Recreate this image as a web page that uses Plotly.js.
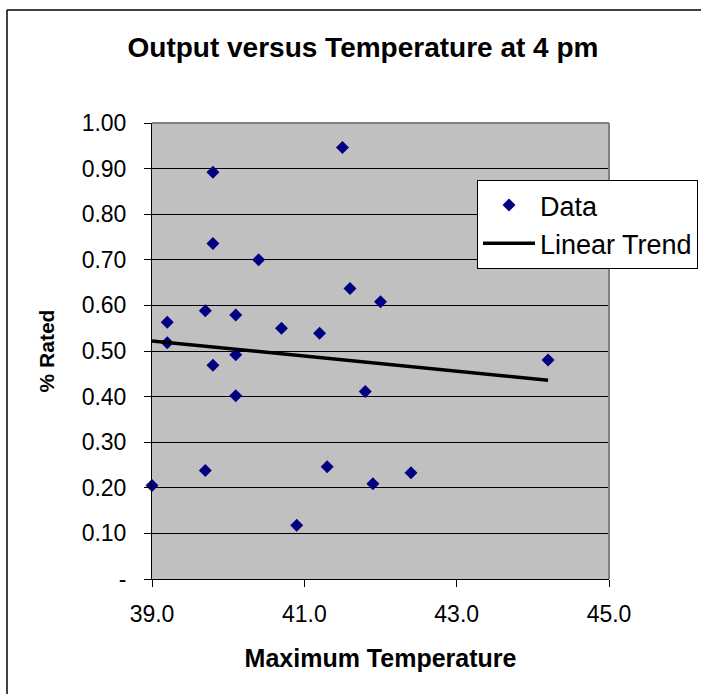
<!DOCTYPE html>
<html>
<head>
<meta charset="utf-8">
<script src="https://cdn.plot.ly/plotly-3.0.1.min.js"></script>
<style>
  html, body { margin: 0; padding: 0; background: #ffffff; overflow: hidden; width: 701px; height: 694px; }
  #chart { width: 701px; height: 694px; overflow: hidden; }
</style>
</head>
<body>
<div id="chart"></div>
<script>
// ---- data ----
const maxTemp = [39.0, 39.2, 39.2, 39.7, 39.7, 39.8, 39.8, 39.8, 40.1, 40.1, 40.1, 40.4, 40.7, 40.9, 41.2, 41.3, 41.5, 41.6, 41.8, 41.9, 42.0, 42.4, 44.2];
const pctRated = [0.205, 0.563, 0.518, 0.588, 0.238, 0.892, 0.736, 0.469, 0.579, 0.492, 0.402, 0.700, 0.550, 0.118, 0.539, 0.246, 0.946, 0.637, 0.411, 0.209, 0.608, 0.233, 0.480];
const trendX = [39.0, 44.2];
const trendY = [0.522, 0.436];
const yTickVals = [0, 0.1, 0.2, 0.3, 0.4, 0.5, 0.6, 0.7, 0.8, 0.9, 1.0];
const yTickText = ["-", "0.10", "0.20", "0.30", "0.40", "0.50", "0.60", "0.70", "0.80", "0.90", "1.00"];
const xTickVals = [39, 41, 43, 45];
const xTickText = ["39.0", "41.0", "43.0", "45.0"];

// ---- layout helpers ----
const W = 701, H = 694;
const M = { l: 152, r: 92, t: 123, b: 115, autoexpand: false };
const PW = W - M.l - M.r, PH = H - M.t - M.b;
const px = x => (x - M.l) / PW;
const py = y => (H - M.b - y) / PH;
const FONT = "Liberation Sans, Arial, Helvetica, sans-serif";

const traces = [
  {
    type: "scatter", mode: "markers", name: "Data",
    x: maxTemp, y: pctRated,
    marker: { symbol: "diamond", size: 10, color: "#000080" },
    cliponaxis: false
  },
  {
    type: "scatter", mode: "lines", name: "Linear Trend",
    x: trendX, y: trendY,
    line: { color: "#000000", width: 3.5 }
  }
];

const layout = {
  width: W, height: H,
  margin: M,
  paper_bgcolor: "#ffffff",
  plot_bgcolor: "#c0c0c0",
  font: { family: FONT, color: "#000000", size: 23 },
  title: {
    text: "<b>Output versus Temperature at 4 pm</b>",
    font: { family: FONT, size: 28, color: "#000000" },
    xref: "container", yref: "container",
    x: 363 / W, xanchor: "center",
    y: 1 - 47 / H, yanchor: "middle"
  },
  xaxis: {
    range: [39, 45],
    tickvals: xTickVals, ticktext: xTickText,
    ticks: "outside", ticklen: 7, tickcolor: "#000000", tickwidth: 1,
    ticklabelstandoff: 7,
    showline: true, linecolor: "#000000", linewidth: 1,
    showgrid: false, zeroline: false,
    tickfont: { family: FONT, size: 23 },
    title: { text: "<b>Maximum Temperature</b>", font: { family: FONT, size: 25 }, standoff: 23 },
    automargin: false,
    fixedrange: true
  },
  yaxis: {
    range: [0, 1],
    tickvals: yTickVals, ticktext: yTickText,
    ticks: "outside", ticklen: 7, tickcolor: "#000000", tickwidth: 1,
    ticklabelstandoff: 13,
    showline: true, linecolor: "#000000", linewidth: 1,
    showgrid: true, gridcolor: "#000000", gridwidth: 1, zeroline: false,
    tickfont: { family: FONT, size: 23 },
    title: { text: "<b>% Rated</b>", font: { family: FONT, size: 21 }, standoff: 21 },
    automargin: false,
    fixedrange: true
  },
  legend: {
    x: px(477), y: py(180), xanchor: "left", yanchor: "top",
    bgcolor: "#ffffff", bordercolor: "#000000", borderwidth: 1,
    font: { family: FONT, size: 27, color: "#000000" },
    itemwidth: 52,
    tracegroupgap: 0
  },
  showlegend: true,
  shapes: [
    // plot-area border (top and right), grey
    { type: "line", xref: "paper", yref: "paper", x0: 0, x1: 1, y0: 1, y1: 1, line: { color: "#808080", width: 2 }, layer: "above" },
    { type: "line", xref: "paper", yref: "paper", x0: 1, x1: 1, y0: 0, y1: 1, line: { color: "#808080", width: 2 }, layer: "above" },
    // chart outer border (left and top visible)
    { type: "line", xref: "paper", yref: "paper", x0: px(7), x1: px(7), y0: py(10), y1: py(H), line: { color: "#000000", width: 1.5 }, layer: "above" },
    { type: "line", xref: "paper", yref: "paper", x0: px(7), x1: px(W), y0: py(10), y1: py(10), line: { color: "#000000", width: 1.5 }, layer: "above" }
  ]
};

Plotly.newPlot("chart", traces, layout, { displayModeBar: false, staticPlot: true });
</script>
</body>
</html>
